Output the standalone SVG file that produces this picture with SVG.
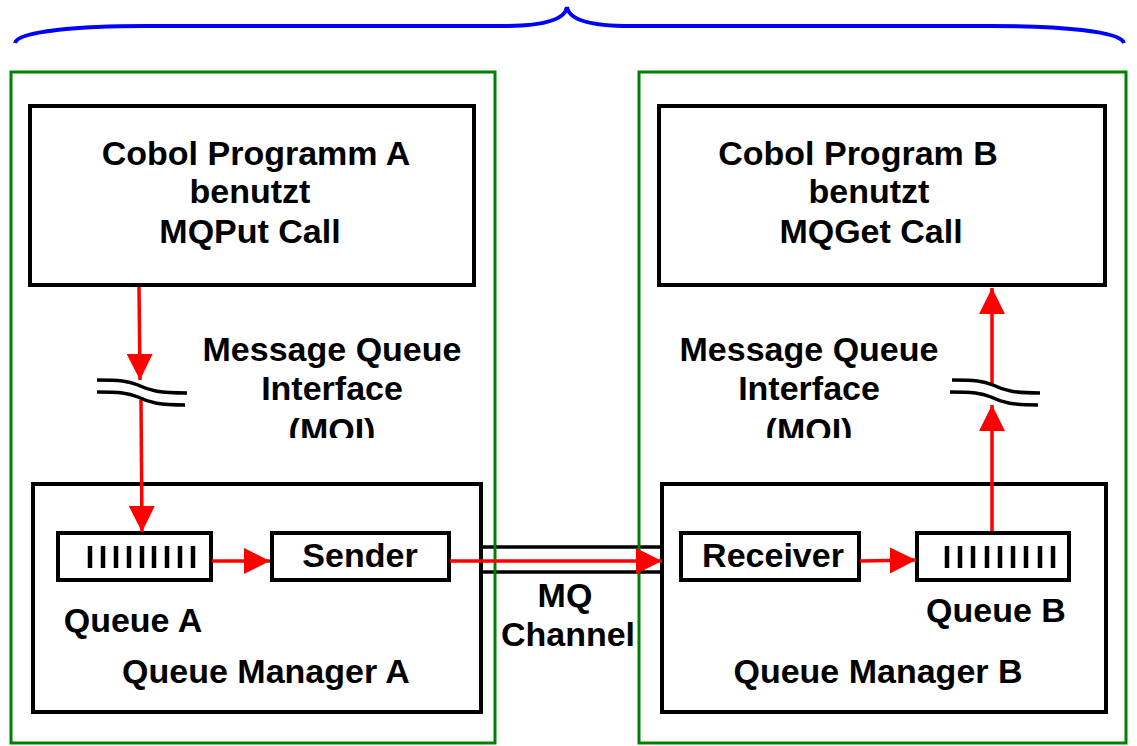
<svg xmlns="http://www.w3.org/2000/svg" width="1137" height="746" viewBox="0 0 1137 746">
<style>
.box{fill:#fff;stroke:#000;stroke-width:4}
.grn{fill:none;stroke:#008000;stroke-width:3}
.t{font-family:"Liberation Sans",Arial,sans-serif;font-weight:bold;font-size:34px;fill:#000;text-anchor:middle}
.red{stroke:#ff0000;stroke-width:3.5;fill:none}
.wave{stroke:#000;stroke-width:3.5;fill:none}
.bar{stroke:#000;stroke-width:4.5}
.ch{stroke:#000;stroke-width:3.5}
</style>
<defs>
<marker id="ah" viewBox="0 0 10 10" refX="10" refY="5" markerWidth="7.5" markerHeight="7.5" markerUnits="strokeWidth" orient="auto">
<path d="M0,0 L10,5 L0,10 Z" fill="#ff0000"/>
</marker>
<clipPath id="clipMQI"><rect x="0" y="0" width="1137" height="438"/></clipPath>
</defs>
<rect width="1137" height="746" fill="#fff"/>

<g id="brace">
<path d="M15,43 C18,31 80,26 146,26 L503,26 C540,26 565,21 567,7 C569,21 594,26 630,26 L991,26 C1060,26 1120,31 1124,43" fill="none" stroke="#0000ff" stroke-width="4"/>
</g>

<g id="channel">
<line class="ch" x1="480" y1="547" x2="663" y2="547"/>
<line class="ch" x1="480" y1="572" x2="663" y2="572"/>
</g>

<g id="systemA"><rect class="grn" x="11" y="72" width="484" height="671"/></g>
<g id="systemB"><rect class="grn" x="639" y="72" width="487" height="671"/></g>

<g id="programA">
<rect class="box" x="30" y="106" width="444" height="179"/>
<text class="t" x="256" y="165">Cobol Programm A</text>
<text class="t" x="250" y="203">benutzt</text>
<text class="t" x="250" y="243">MQPut Call</text>
</g>

<g id="programB">
<rect class="box" x="659" y="106" width="446" height="179"/>
<text class="t" x="858" y="165">Cobol Program B</text>
<text class="t" x="869" y="203">benutzt</text>
<text class="t" x="871" y="243">MQGet Call</text>
</g>

<g id="mqiA">
<text class="t" x="332" y="361">Message Queue</text>
<text class="t" x="332" y="400">Interface</text>
<text class="t" x="332" y="442" clip-path="url(#clipMQI)">(MQI)</text>
</g>
<g id="mqiB">
<text class="t" x="809" y="361">Message Queue</text>
<text class="t" x="809" y="400">Interface</text>
<text class="t" x="809" y="442" clip-path="url(#clipMQI)">(MQI)</text>
</g>

<g id="qmA">
<rect class="box" x="33" y="484" width="448" height="228"/>
<text class="t" x="266" y="683">Queue Manager A</text>
</g>
<g id="qmB">
<rect class="box" x="662" y="484" width="444" height="228"/>
<text class="t" x="878" y="683">Queue Manager B</text>
</g>

<g id="queueA">
<rect class="box" x="58" y="533" width="153" height="47"/>
<g class="bar">
<line x1="90" y1="546" x2="90" y2="568"/><line x1="103" y1="546" x2="103" y2="568"/><line x1="116" y1="546" x2="116" y2="568"/><line x1="129" y1="546" x2="129" y2="568"/><line x1="142" y1="546" x2="142" y2="568"/><line x1="154" y1="546" x2="154" y2="568"/><line x1="167" y1="546" x2="167" y2="568"/><line x1="180" y1="546" x2="180" y2="568"/><line x1="193" y1="546" x2="193" y2="568"/>
</g>
<text class="t" x="133" y="632">Queue A</text>
</g>

<g id="sender">
<rect class="box" x="272" y="533" width="177" height="47"/>
<text class="t" x="360" y="567">Sender</text>
</g>

<g id="receiver">
<rect class="box" x="681" y="533" width="178" height="47"/>
<text class="t" x="773" y="567">Receiver</text>
</g>

<g id="queueB">
<rect class="box" x="917" y="533" width="152" height="47"/>
<g class="bar">
<line x1="947" y1="546" x2="947" y2="568"/><line x1="960" y1="546" x2="960" y2="568"/><line x1="973" y1="546" x2="973" y2="568"/><line x1="987" y1="546" x2="987" y2="568"/><line x1="1000" y1="546" x2="1000" y2="568"/><line x1="1013" y1="546" x2="1013" y2="568"/><line x1="1026" y1="546" x2="1026" y2="568"/><line x1="1040" y1="546" x2="1040" y2="568"/><line x1="1053" y1="546" x2="1053" y2="568"/>
</g>
<text class="t" x="996" y="622">Queue B</text>
</g>

<g id="channelLabel">
<text class="t" x="565" y="607">MQ</text>
<text class="t" x="568" y="646">Channel</text>
</g>

<g id="connectors">
<line class="red" x1="139" y1="287" x2="140" y2="380" marker-end="url(#ah)"/>
<line class="red" x1="141" y1="400" x2="142" y2="532" marker-end="url(#ah)"/>
<line class="red" x1="212" y1="561" x2="270" y2="561" marker-end="url(#ah)"/>
<line class="red" x1="450" y1="561" x2="662" y2="561" marker-end="url(#ah)"/>
<line class="red" x1="860" y1="561" x2="916" y2="560" marker-end="url(#ah)"/>
<line class="red" x1="992" y1="531" x2="992" y2="405" marker-end="url(#ah)"/>
<line class="red" x1="992" y1="384" x2="992" y2="288" marker-end="url(#ah)"/>
<path class="wave" d="M97,380 C120,380 128,381 138,385 C150,391 160,393 187,393"/>
<path class="wave" d="M97,392 C120,392 128,393 138,397 C150,403 160,405 185,405"/>
<path class="wave" d="M952,380 C975,380 983,381 993,385 C1005,391 1015,393 1040,393"/>
<path class="wave" d="M950,392 C973,392 981,393 991,397 C1003,403 1013,405 1038,405"/>
</g>
</svg>
